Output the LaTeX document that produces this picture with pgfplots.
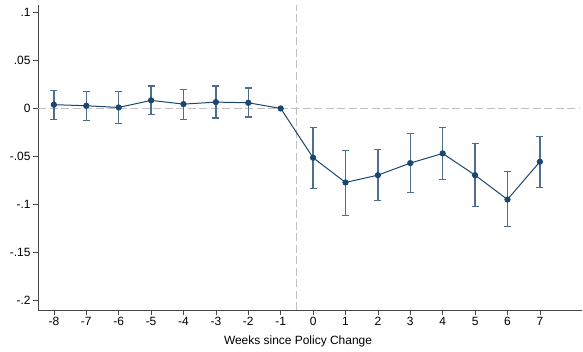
\documentclass[border=0pt]{standalone}
\usepackage{pgfplots}
\pgfplotsset{compat=1.18}
\usepackage{fontspec}
\setmainfont{Liberation Sans}
\definecolor{navy}{RGB}{26,71,111}
\definecolor{cicol}{RGB}{78,110,143}
\definecolor{refgray}{RGB}{192,192,192}
\definecolor{axgray}{RGB}{70,70,70}
\begin{document}
\begin{tikzpicture}
\begin{axis}[
  scale only axis, width=544bp, height=305bp,
  xmin=-8.49, xmax=8.3, ymin=-0.2105, ymax=0.108,
  axis lines=left,
  x axis line style={-, axgray, line width=0.8bp},
  y axis line style={-, axgray, line width=0.8bp},
  tick align=outside, major tick length=5bp,
  tick style={axgray, line width=0.7bp},
  xtick={-8,-7,-6,-5,-4,-3,-2,-1,0,1,2,3,4,5,6,7},
  ytick={-0.2,-0.15,-0.1,-0.05,0,0.05,0.1},
  yticklabels={-.2,-.15,-.1,-.05,0,.05,.1},
  /pgf/number format/assume math mode=true,
  ticklabel style={font=\fontsize{12}{14}\selectfont},
  label style={font=\fontsize{12}{14}\selectfont},
  xlabel={Weeks since Policy Change},
  xlabel style={yshift=-3bp, xshift=-12bp},
  yticklabel style={xshift=1bp},
  xticklabel style={yshift=1bp},
]
\addplot[refgray, line width=0.9bp, dash pattern=on 8bp off 3.5bp] coordinates {(-8.49,0) (8.21,0)};
\addplot[refgray, line width=0.9bp, dash pattern=on 8bp off 3.5bp] coordinates {(-0.5,-0.2105) (-0.5,0.108)};
\addplot[draw=none, mark=none, forget plot,
  error bars/.cd, y dir=both, y explicit,
  error bar style={cicol, line width=1.3bp},
  error mark options={rotate=90, mark size=3.5bp, cicol, line width=1.3bp}]
  table[x=x, y=y, y error plus=ep, y error minus=em] {
x y ep em
-8 0.0039 0.0146 0.0157
-7 0.0028 0.0150 0.0153
-6 0.0010 0.0168 0.0167
-5 0.0084 0.0149 0.0147
-4 0.0045 0.0155 0.0160
-3 0.0066 0.0167 0.0167
-2 0.0059 0.0153 0.0150
0 -0.0515 0.0316 0.0318
1 -0.0773 0.0334 0.0342
2 -0.0697 0.0269 0.0264
3 -0.0571 0.0306 0.0307
4 -0.0470 0.0271 0.0275
5 -0.0697 0.0331 0.0324
6 -0.0951 0.0289 0.0285
7 -0.0557 0.0264 0.0269
};
\addplot[navy, line width=1bp, mark=*, mark size=2.6bp, mark options={fill=navy, draw=navy}]
  table[x=x, y=y] {
x y
-8 0.0039
-7 0.0028
-6 0.0010
-5 0.0084
-4 0.0045
-3 0.0066
-2 0.0059
-1 0
0 -0.0515
1 -0.0773
2 -0.0697
3 -0.0571
4 -0.0470
5 -0.0697
6 -0.0951
7 -0.0557
};
\end{axis}
\path (current axis.south west) ++(-38bp,-41bp);
\path (current axis.north east) ++(1bp,5bp);
\end{tikzpicture}
\end{document}
